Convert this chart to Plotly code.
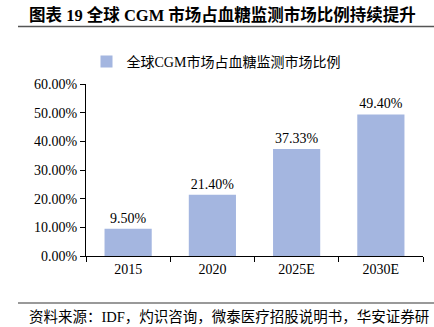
import plotly.graph_objects as go

categories = ["2015", "2020", "2025E", "2030E"]
values = [9.50, 21.40, 37.33, 49.40]
series_name = "全球CGM市场占血糖监测市场比例"
y_ticks = [0, 10, 20, 30, 40, 50, 60]
title_text = "图表 19 全球 CGM 市场占血糖监测市场比例持续提升"
source_text = "资料来源：IDF，灼识咨询，微泰医疗招股说明书，华安证券研"

W, H = 434, 327
L, R, T, B = 86, 11, 84, 71
pw, ph = W - L - R, H - T - B

def px(x):
    return (x - L) / pw

def py(y):
    return (H - B - y) / ph

serif = "Liberation Serif, Times New Roman, Noto Sans CJK SC, serif"
bar_color = "#A4B6E0"

fig = go.Figure()
fig.add_trace(go.Bar(
    x=categories, y=values, name=series_name,
    marker=dict(color=bar_color, line=dict(width=0)),
    text=[f"{v:.2f}%" for v in values], textposition="outside",
    textfont=dict(family=serif, size=14, color="#000"),
    cliponaxis=False,
))

fig.update_layout(
    width=W, height=H,
    margin=dict(l=L, r=R, t=T, b=B),
    paper_bgcolor="white", plot_bgcolor="white",
    bargap=0.44,
    showlegend=True,
    legend=dict(orientation="h", x=px(216), xanchor="center", y=py(62), yanchor="middle",
                font=dict(family=serif, size=14, color="#000"), bgcolor="rgba(0,0,0,0)",
                itemwidth=30),
    xaxis=dict(showline=True, linecolor="#000", linewidth=1, ticks="outside",
               tickson="boundaries", ticklen=5, tickcolor="#000",
               tickfont=dict(family=serif, size=14, color="#000"), showgrid=False),
    yaxis=dict(range=[0, 60], tickvals=y_ticks, ticktext=[f"{t:.2f}%" for t in y_ticks],
               showline=True, linecolor="#000", linewidth=1, ticks="outside", ticklen=5,
               tickcolor="#000", showgrid=False, zeroline=False,
               tickfont=dict(family=serif, size=14, color="#000")),
    annotations=[
        dict(text="<b>" + title_text + "</b>", x=px(27), y=py(15), xref="paper", yref="paper",
             xanchor="left", yanchor="middle", showarrow=False,
             font=dict(family=serif, size=16.5, color="#000")),
        dict(text=source_text, x=px(27), y=py(317), xref="paper", yref="paper",
             xanchor="left", yanchor="middle", showarrow=False,
             font=dict(family=serif, size=14.5, color="#000")),
    ],
    shapes=[
        dict(type="line", xref="paper", yref="paper", x0=px(18), x1=px(440), y0=py(26.5), y1=py(26.5),
             line=dict(color="#555", width=1.5)),
        dict(type="line", xref="paper", yref="paper", x0=px(18), x1=px(440), y0=py(303), y1=py(303),
             line=dict(color="#777", width=1.5)),
    ],
)

fig.write_html("out.html")
